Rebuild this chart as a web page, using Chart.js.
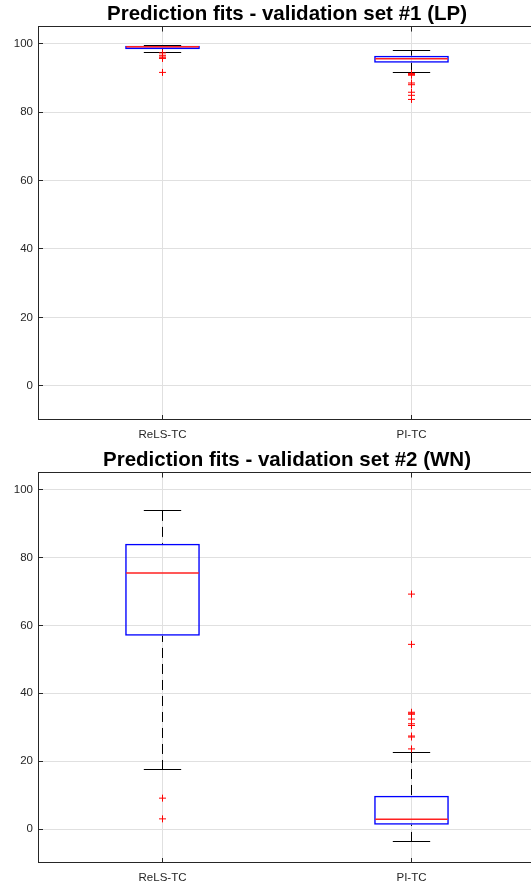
<!DOCTYPE html>
<html>
<head>
<meta charset="utf-8">
<script src="https://cdn.jsdelivr.net/npm/chart.js@4.4.1/dist/chart.umd.min.js"></script>
<style>
  html, body { margin: 0; padding: 0; background: #fff; overflow: hidden; width: 531px; height: 885px; }
  canvas { position: absolute; left: 0; }
  #c1 { top: 0; }
  #c2 { top: 446px; }
</style>
</head>
<body>
<canvas id="c1" width="541" height="442"></canvas>
<canvas id="c2" width="541" height="439"></canvas>
<script>
const categories = ['ReLS-TC', 'PI-TC']
const yTicks = [0, 20, 40, 60, 80, 100]

// validation set #1 (LP)
const lpLow = [97.5, 91.6]
const lpQ1 = [98.4, 94.4]
const lpMedian = [99.1, 95.6]
const lpQ3 = [99.4, 96.5]
const lpHigh = [99.6, 98.1]
const lpOutRels = [97.3, 96.6, 96.1, 95.8, 95.7, 91.6]
const lpOutPi = [91.3, 91.1, 90.9, 90.8, 88.5, 88.0, 85.8, 84.9, 83.7]

// validation set #2 (WN)
const wnLow = [17.4, -3.8]
const wnQ1 = [56.9, 1.3]
const wnMedian = [75.4, 2.9]
const wnQ3 = [84.0, 9.8]
const wnHigh = [93.7, 22.4]
const wnOutRels = [9.1, 3.0]
const wnOutPi = [69.2, 54.4, 34.4, 34.1, 33.8, 32.4, 31.0, 30.5, 27.4, 27.1, 23.6]

const axisColor = '#262626'
const gridColor = '#e0e0e0'

// same snapping Chart.js uses for 1px grid lines
const snap = p => Math.round(p - 0.5) + 0.5

// whiskers, medians, frame and inward ticks, all placed via the chart scales
const boxParts = {
  id: 'boxParts',
  beforeDatasetsDraw(chart, args, o) {
    const x = chart.scales.x, y = chart.scales.y, ctx = chart.ctx
    const catW = x.getPixelForValue(1) - x.getPixelForValue(0)
    const capHalf = catW * 0.075
    ctx.save()
    ctx.strokeStyle = '#000'
    ctx.lineWidth = 1
    categories.forEach((c, i) => {
      const cx = snap(x.getPixelForValue(i))
      ctx.setLineDash([10, 6])
      ctx.beginPath()
      ctx.moveTo(cx, y.getPixelForValue(o.high[i]))
      ctx.lineTo(cx, y.getPixelForValue(o.q3[i]))
      ctx.moveTo(cx, y.getPixelForValue(o.low[i]))
      ctx.lineTo(cx, y.getPixelForValue(o.q1[i]))
      ctx.stroke()
      ctx.setLineDash([])
      ctx.beginPath()
      for (const v of [o.high[i], o.low[i]]) {
        const py = snap(y.getPixelForValue(v))
        ctx.moveTo(cx - capHalf, py)
        ctx.lineTo(cx + capHalf, py)
      }
      ctx.stroke()
    })
    ctx.restore()
  },
  afterDatasetsDraw(chart, args, o) {
    const x = chart.scales.x, y = chart.scales.y, ctx = chart.ctx
    const catW = x.getPixelForValue(1) - x.getPixelForValue(0)
    const boxHalf = catW * 0.15
    ctx.save()
    ctx.strokeStyle = '#ff2020'
    ctx.lineWidth = 1.5
    categories.forEach((c, i) => {
      const cx = x.getPixelForValue(i)
      const py = y.getPixelForValue(o.median[i])
      ctx.beginPath()
      ctx.moveTo(cx - boxHalf + 1, py)
      ctx.lineTo(cx + boxHalf - 1, py)
      ctx.stroke()
    })
    ctx.restore()
  },
  afterDraw(chart) {
    const a = chart.chartArea, x = chart.scales.x, y = chart.scales.y, ctx = chart.ctx
    ctx.save()
    ctx.strokeStyle = axisColor
    ctx.lineWidth = 1
    ctx.beginPath()
    yTicks.forEach(v => {
      const py = snap(y.getPixelForValue(v))
      ctx.moveTo(a.left, py); ctx.lineTo(a.left + 5, py)
      ctx.moveTo(a.right, py); ctx.lineTo(a.right - 5, py)
    })
    categories.forEach((c, i) => {
      const px = snap(x.getPixelForValue(i))
      ctx.moveTo(px, a.top); ctx.lineTo(px, a.top + 5)
      ctx.moveTo(px, a.bottom); ctx.lineTo(px, a.bottom - 5)
    })
    ctx.stroke()
    ctx.strokeRect(snap(a.left), snap(a.top),
      Math.round(a.right - a.left), Math.round(a.bottom - a.top))
    ctx.restore()
  }
}

function makeChart(id, title, low, q1, median, q3, high, outRels, outPi) {
  const outliers = [
    ...outRels.map(v => ({ x: categories[0], y: v })),
    ...outPi.map(v => ({ x: categories[1], y: v }))
  ]
  return new Chart(document.getElementById(id), {
    type: 'bar',
    data: {
      labels: categories,
      datasets: [{
        type: 'bar',
        data: categories.map((c, i) => [q1[i], q3[i]]),
        backgroundColor: 'rgba(0,0,0,0)',
        borderColor: '#0000ff',
        borderWidth: 1.5,
        borderSkipped: false,
        barPercentage: 0.3,
        categoryPercentage: 1
      }, {
        type: 'scatter',
        data: outliers,
        pointStyle: 'cross',
        radius: 3.5,
        borderColor: '#ff0000',
        borderWidth: 1,
        backgroundColor: '#ff0000'
      }]
    },
    options: {
      responsive: false,
      animation: false,
      layout: { padding: 0 },
      plugins: {
        legend: { display: false },
        tooltip: { enabled: false },
        title: {
          display: true,
          fullSize: false,
          text: title,
          color: '#000',
          font: { family: 'Liberation Sans', size: 20.5, weight: 'bold', lineHeight: 1.1 },
          padding: { top: 3, bottom: 1 }
        },
        boxParts: { low, q1, median, q3, high }
      },
      scales: {
        x: {
          type: 'category',
          offset: true,
          grid: { color: gridColor, offset: false, drawTicks: false },
          border: { display: false },
          ticks: { color: axisColor, font: { family: 'Liberation Sans', size: 11.5 }, padding: 8 },
          afterFit: s => { s.height = 22 }
        },
        y: {
          min: -10,
          max: 105,
          grid: { color: gridColor, drawTicks: false },
          border: { display: false },
          ticks: { color: axisColor, font: { family: 'Liberation Sans', size: 11.5 }, padding: 5 },
          afterBuildTicks: s => { s.ticks = yTicks.map(v => ({ value: v })) },
          afterFit: s => { s.width = 38 }
        }
      }
    },
    plugins: [boxParts]
  })
}

makeChart('c1', 'Prediction fits - validation set #1 (LP)', lpLow, lpQ1, lpMedian, lpQ3, lpHigh, lpOutRels, lpOutPi)
makeChart('c2', 'Prediction fits - validation set #2 (WN)', wnLow, wnQ1, wnMedian, wnQ3, wnHigh, wnOutRels, wnOutPi)
</script>
</body>
</html>
